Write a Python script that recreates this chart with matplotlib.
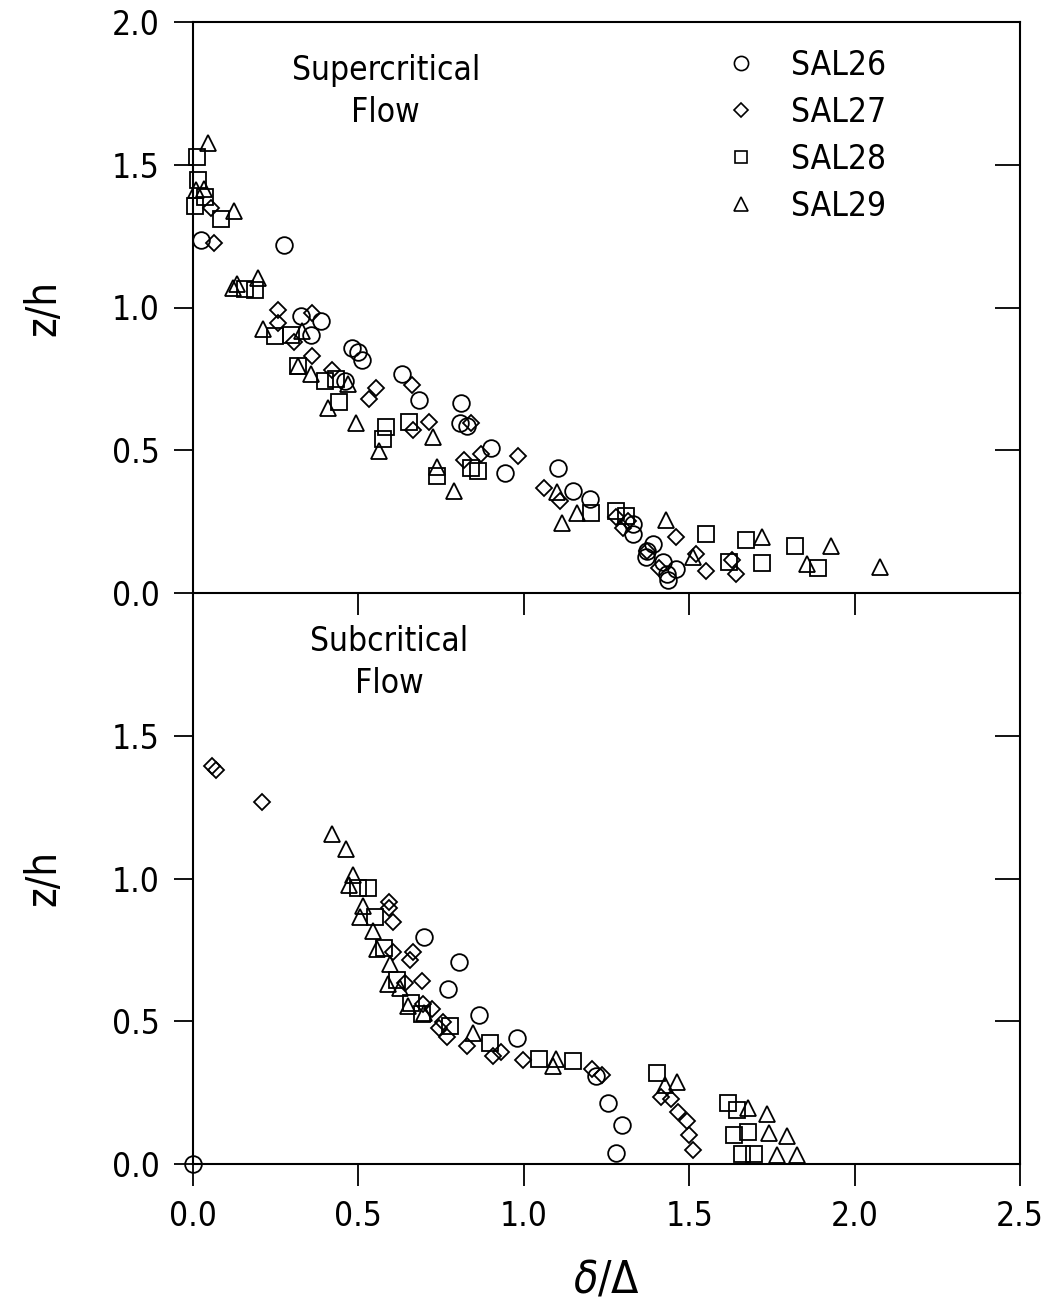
import matplotlib
matplotlib.use("Agg")
import matplotlib.pyplot as plt
from matplotlib.lines import Line2D

plt.rcParams['font.family'] = ['DejaVu Sans']
plt.rcParams['font.stretch'] = 'condensed'

# ---------------- data: supercritical flow (top) ----------------
sup26_x = [0.024, 0.275, 0.327, 0.387, 0.357, 0.46, 0.48, 0.50, 0.51, 0.632, 0.683, 0.81, 0.807, 0.828,
           0.90, 0.943, 1.103, 1.15, 1.20, 1.33, 1.33, 1.39, 1.372, 1.37, 1.42, 1.46, 1.433, 1.436]
sup26_y = [1.237, 1.219, 0.970, 0.951, 0.902, 0.743, 0.858, 0.844, 0.816, 0.768, 0.677, 0.667, 0.597, 0.586,
           0.508, 0.42, 0.438, 0.357, 0.328, 0.242, 0.207, 0.171, 0.146, 0.125, 0.107, 0.085, 0.065, 0.047]

sup27_x = [0.054, 0.064, 0.257, 0.257, 0.36, 0.305, 0.36, 0.42, 0.553, 0.532, 0.662, 0.665, 0.713, 0.84,
           0.82, 0.87, 0.982, 1.06, 1.11, 1.28, 1.315, 1.30, 1.372, 1.46, 1.41, 1.52, 1.55, 1.63, 1.641]
sup27_y = [1.349, 1.226, 0.992, 0.946, 0.979, 0.879, 0.829, 0.782, 0.717, 0.679, 0.729, 0.572, 0.599, 0.597,
           0.467, 0.488, 0.479, 0.369, 0.322, 0.267, 0.252, 0.228, 0.146, 0.197, 0.086, 0.137, 0.077, 0.117, 0.065]

sup28_x = [0.012, 0.015, 0.036, 0.006, 0.085, 0.157, 0.187, 0.248, 0.296, 0.318, 0.40, 0.432, 0.441, 0.583,
           0.574, 0.653, 0.737, 0.84, 0.862, 1.203, 1.28, 1.31, 1.55, 1.672, 1.62, 1.72, 1.82, 1.89]
sup28_y = [1.528, 1.447, 1.387, 1.356, 1.31, 1.064, 1.063, 0.901, 0.904, 0.795, 0.741, 0.748, 0.67, 0.58,
           0.538, 0.60, 0.41, 0.439, 0.428, 0.279, 0.288, 0.27, 0.206, 0.187, 0.107, 0.105, 0.166, 0.088]

sup29_x = [0.045, 0.01, 0.033, 0.124, 0.133, 0.121, 0.196, 0.212, 0.33, 0.318, 0.357, 0.47, 0.408, 0.493,
           0.563, 0.725, 0.737, 0.79, 1.10, 1.115, 1.16, 1.43, 1.51, 1.72, 1.93, 1.856, 2.077]
sup29_y = [1.576, 1.412, 1.416, 1.337, 1.081, 1.068, 1.105, 0.926, 0.917, 0.795, 0.766, 0.733, 0.647, 0.596,
           0.497, 0.546, 0.441, 0.356, 0.354, 0.245, 0.28, 0.254, 0.127, 0.196, 0.164, 0.103, 0.092]

# ---------------- data: subcritical flow (bottom) ----------------
sub26_x = [0.0, 0.698, 0.804, 0.771, 0.865, 0.98, 1.218, 1.254, 1.297, 1.279]
sub26_y = [0.0, 0.795, 0.709, 0.612, 0.523, 0.44, 0.307, 0.212, 0.137, 0.04]

sub27_x = [0.057, 0.07, 0.208, 0.592, 0.592, 0.605, 0.605, 0.665, 0.656, 0.64, 0.692, 0.695, 0.722, 0.744,
           0.756, 0.768, 0.828, 0.907, 0.931, 0.998, 1.206, 1.236, 1.415, 1.445, 1.466, 1.493, 1.50, 1.51]
sub27_y = [1.394, 1.38, 1.269, 0.916, 0.895, 0.846, 0.744, 0.743, 0.715, 0.635, 0.641, 0.561, 0.543, 0.476,
           0.497, 0.444, 0.412, 0.379, 0.392, 0.363, 0.331, 0.313, 0.233, 0.229, 0.183, 0.151, 0.10, 0.05]

sub28_x = [0.499, 0.53, 0.55, 0.577, 0.617, 0.659, 0.692, 0.777, 0.898, 1.046, 1.149, 1.403, 1.617, 1.645,
           1.635, 1.678, 1.66, 1.696]
sub28_y = [0.966, 0.966, 0.864, 0.755, 0.643, 0.565, 0.526, 0.483, 0.424, 0.369, 0.36, 0.317, 0.212, 0.19,
           0.10, 0.113, 0.035, 0.035]

sub29_x = [0.42, 0.462, 0.484, 0.472, 0.514, 0.505, 0.544, 0.556, 0.596, 0.59, 0.626, 0.65, 0.698, 0.846,
           1.097, 1.088, 1.427, 1.463, 1.678, 1.735, 1.74, 1.796, 1.765, 1.826]
sub29_y = [1.157, 1.103, 1.012, 0.978, 0.903, 0.865, 0.815, 0.752, 0.702, 0.632, 0.615, 0.555, 0.529, 0.46,
           0.368, 0.344, 0.278, 0.288, 0.197, 0.175, 0.108, 0.097, 0.03, 0.03]

series_names = ["SAL26", "SAL27", "SAL28", "SAL29"]
x_ticks = [0.0, 0.5, 1.0, 1.5, 2.0, 2.5]
y_ticks = [0.0, 0.5, 1.0, 1.5, 2.0]

markers = {"SAL26": ("o", 12), "SAL27": ("D", 8.5), "SAL28": ("s", 11), "SAL29": ("^", 12)}

fig = plt.figure(figsize=(10.63, 13.07), dpi=100)
left, width = 193 / 1063, (1020 - 193) / 1063
h = 571 / 1307
ax_top = fig.add_axes([left, 1 - 593 / 1307, width, h])
ax_bot = fig.add_axes([left, 1 - 1164 / 1307, width, h])
ax_bot.patch.set_visible(False)
ax_top.set_zorder(2)
ax_top.patch.set_visible(False)

top_data = [(sup26_x, sup26_y), (sup27_x, sup27_y), (sup28_x, sup28_y), (sup29_x, sup29_y)]
bot_data = [(sub26_x, sub26_y), (sub27_x, sub27_y), (sub28_x, sub28_y), (sub29_x, sub29_y)]

FS = 24
for ax, data in ((ax_top, top_data), (ax_bot, bot_data)):
    for name, (xs, ys) in zip(series_names, data):
        m, ms = markers[name]
        ax.plot(xs, ys, linestyle="none", marker=m, markersize=ms, markerfacecolor="none",
                markeredgecolor="black", markeredgewidth=1.3, clip_on=False, label=name)
    ax.set_xlim(0, 2.5)
    ax.set_ylim(0, 2.0)
    for s in ax.spines.values():
        s.set_linewidth(1.5)
    ax.set_yticks(y_ticks)
    ax.set_xticks(x_ticks)
    ax.tick_params(axis="y", which="both", left=True, right=False, direction="out",
                   length=14, width=1.3, labelsize=FS, pad=10)
    ax.tick_params(axis="x", which="both", bottom=True, top=False, direction="out",
                   length=16, width=1.3, labelsize=FS, pad=10)
    ax.set_yticklabels([f"{v:.1f}" for v in y_ticks])
    ax.set_ylabel("z/h", fontsize=FS + 6, labelpad=34)
    # inward ticks on the right spine
    sec = ax.secondary_yaxis("right")
    sec.set_yticks([0.5, 1.0, 1.5])
    sec.tick_params(direction="in", length=18, width=1.3, labelright=False)
    sec.spines["right"].set_visible(False)

ax_top.tick_params(axis="x", labelbottom=False)
ax_top.set_xticks([0.5, 1.0, 1.5, 2.0])
ax_top.set_yticks(y_ticks)
ax_bot.set_yticks(y_ticks[:-1])
ax_bot.set_yticklabels([f"{v:.1f}" for v in y_ticks[:-1]])
ax_bot.set_xticklabels([f"{v:.1f}" for v in x_ticks])
ax_bot.set_xlabel(r"$\delta/\Delta$", fontsize=FS + 8, labelpad=18)
ax_bot.spines["top"].set_visible(False)

ax_top.text(0.233, 0.878, "Supercritical\nFlow", transform=ax_top.transAxes, ha="center",
            va="center", fontsize=FS, linespacing=1.35)
ax_bot.text(0.237, 0.878, "Subcritical\nFlow", transform=ax_bot.transAxes, ha="center",
            va="center", fontsize=FS, linespacing=1.35)

handles = [Line2D([], [], linestyle="none", marker=markers[n][0], markersize=markers[n][1] * 0.85,
                  markerfacecolor="none", markeredgecolor="black", markeredgewidth=1.2) for n in series_names]
ax_top.legend(handles, series_names, loc="upper right", bbox_to_anchor=(0.87, 1.0), frameon=False,
              fontsize=FS, handletextpad=0.9, handlelength=1.2, labelspacing=0.42, borderaxespad=0.4)

fig.savefig("out.png", dpi=100)
